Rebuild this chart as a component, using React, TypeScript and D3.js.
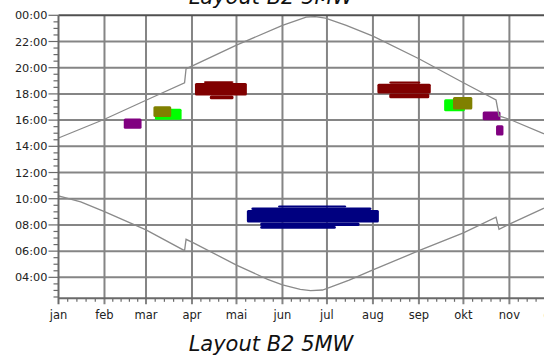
import React from 'react';
import * as d3 from 'd3';

// Shadow flicker calendar: sunrise/sunset curves and flicker periods per turbine
const YEAR = 2011;
const monthLabels = ['jan', 'feb', 'mar', 'apr', 'mai', 'jun', 'jul', 'aug', 'sep', 'okt', 'nov', 'dec'];
const hourTicks = [4, 6, 8, 10, 12, 14, 16, 18, 20, 22, 24];
const title = 'Layout B2 5MW';

// Sunset (local clock time)
const sunsetDates = ['01-01', '02-01', '03-01', '03-27', '03-28', '04-02', '05-01', '06-01', '06-17', '06-23', '06-30', '07-14', '08-01', '09-01', '10-01', '10-23', '10-25', '11-01', '11-24', '12-12', '12-31'];
const sunsetTimes = ['14:38', '16:04', '17:31', '18:51', '19:55', '20:11', '21:43', '23:14', '23:52', '23:54', '23:47', '23:14', '22:25', '20:41', '18:51', '17:32', '16:19', '16:04', '14:58', '14:42', '14:36'];

// Sunrise (local clock time)
const sunriseDates = ['01-01', '01-16', '02-01', '03-01', '03-27', '03-28', '04-02', '05-01', '05-22', '06-01', '06-13', '06-20', '06-28', '07-16', '08-01', '09-01', '10-01', '10-23', '10-25', '11-01', '11-24', '12-12', '12-31'];
const sunriseTimes = ['10:13', '09:46', '09:01', '07:37', '06:02', '06:54', '06:38', '04:56', '03:51', '03:25', '03:05', '02:59', '03:02', '03:47', '04:34', '06:02', '07:24', '08:35', '07:40', '08:04', '09:16', '09:50', '10:12'];

// Flicker periods: [first day, last day, start time, end time]
type Period = [string, string, string, string];
const flickerNavy: Period[] = [
  ['05-08', '08-05', '08:11', '09:08'],
  ['05-11', '07-31', '09:08', '09:20'],
  ['05-29', '07-14', '09:20', '09:29'],
  ['05-17', '07-23', '07:55', '08:11'],
  ['05-17', '07-07', '07:42', '07:55'],
];
const flickerDarkRed: Period[] = [
  ['04-03', '05-08', '17:53', '18:50'],
  ['04-09', '04-29', '18:50', '18:58'],
  ['04-13', '04-29', '17:35', '17:53'],
  ['08-04', '09-09', '18:02', '18:47'],
  ['08-12', '09-02', '18:47', '18:57'],
  ['08-12', '09-08', '17:40', '18:02'],
];
const flickerGreen: Period[] = [
  ['03-07', '03-25', '16:02', '16:52'],
  ['09-18', '10-02', '16:41', '17:35'],
];
const flickerOlive: Period[] = [
  ['03-06', '03-18', '16:14', '17:03'],
  ['09-24', '10-07', '16:49', '17:46'],
];
const flickerPurple: Period[] = [
  ['02-14', '02-26', '15:21', '16:07'],
  ['10-14', '10-26', '15:59', '16:40'],
  ['10-23', '10-28', '14:50', '15:36'],
];

const turbines = [
  { id: 'navy', color: '#000080', periods: flickerNavy },
  { id: 'darkred', color: '#800000', periods: flickerDarkRed },
  { id: 'green', color: '#00ff00', periods: flickerGreen },
  { id: 'olive', color: '#808000', periods: flickerOlive },
  { id: 'purple', color: '#800080', periods: flickerPurple },
];

const W = 544;
const H = 356;
const LEFT = 58.5;
const TOP = 15.3;
const BOTTOM = 298.3;
const PX_PER_DAY = 1.4832;
const RIGHT = LEFT + 365 * PX_PER_DAY;

const day = (md: string) => new Date(Date.UTC(YEAR, +md.slice(0, 2) - 1, +md.slice(3, 5)));
const hour = (hm: string) => {
  const [h, m] = hm.split(':').map(Number);
  return h + m / 60;
};

const x = d3.scaleUtc().domain([new Date(Date.UTC(YEAR, 0, 1)), new Date(Date.UTC(YEAR + 1, 0, 1))]).range([LEFT, RIGHT]);
const y = d3.scaleLinear().domain([2.4, 24]).range([BOTTOM, TOP]);

const months = d3.utcMonths(new Date(Date.UTC(YEAR, 0, 1)), new Date(Date.UTC(YEAR + 1, 0, 1)));
const minorDays = months.flatMap((m) => {
  const next = d3.utcMonth.offset(m, 1);
  const span = +next - +m;
  return [1, 2, 3, 4].map((k) => new Date(+m + (span * k) / 5));
});
const minorHours = d3.range(2.5, 24, 0.5).filter((h) => h % 2 !== 0);

const line = d3
  .line<[Date, number]>()
  .x((d) => x(d[0]))
  .y((d) => y(d[1]));

const sunset: [Date, number][] = sunsetDates.map((d, i) => [day(d), hour(sunsetTimes[i])]);
const sunrise: [Date, number][] = sunriseDates.map((d, i) => [day(d), hour(sunriseTimes[i])]);

const fmtHour = (h: number) => `${String(h % 24).padStart(2, '0')}:00`;

const GRID = '#858585';
const AXIS = '#6a6a6a';
const FONT = '"DejaVu Sans", Verdana, sans-serif';

export default function App() {
  return (
    <svg width={W} height={H} style={{ position: 'absolute', left: 0, top: 0, background: '#fff' }}>
      <defs>
        <clipPath id="plot-area">
          <rect x={LEFT} y={TOP} width={RIGHT - LEFT} height={BOTTOM - TOP} />
        </clipPath>
      </defs>
      <rect width={W} height={H} fill="#fff" />

      {/* titles */}
      <text x={271} y={4} textAnchor="middle" fontFamily={FONT} fontStyle="italic" fontSize={21} fill="#111">
        {title}
      </text>
      <text x={271} y={351} textAnchor="middle" fontFamily={FONT} fontStyle="italic" fontSize={21} fill="#111">
        {title}
      </text>

      {/* horizontal grid */}
      {hourTicks
        .filter((h) => h < 24)
        .map((h) => (
          <line key={`hg${h}`} x1={LEFT} x2={RIGHT} y1={y(h)} y2={y(h)} stroke={GRID} strokeWidth={2} />
        ))}
      {/* vertical grid, extending below the axis as month ticks */}
      {months.slice(1).map((m) => (
        <line key={`vg${+m}`} x1={x(m)} x2={x(m)} y1={TOP} y2={BOTTOM + 6} stroke={GRID} strokeWidth={2} />
      ))}

      {/* flicker periods */}
      <g clipPath="url(#plot-area)">
        {turbines.map((t) =>
          t.periods.map((p, i) => {
            const x0 = x(day(p[0]));
            const x1 = x(day(p[1]));
            const y0 = y(hour(p[3]));
            const y1 = y(hour(p[2]));
            return (
              <rect key={`${t.id}${i}`} x={x0} y={y0} width={x1 - x0} height={y1 - y0} rx={1.5} fill={t.color} />
            );
          })
        )}
        <path d={line(sunset) ?? ''} fill="none" stroke="#8a8a8a" strokeWidth={1.3} />
        <path d={line(sunrise) ?? ''} fill="none" stroke="#8a8a8a" strokeWidth={1.3} />
      </g>

      {/* axes frame */}
      <line x1={LEFT} x2={RIGHT} y1={TOP} y2={TOP} stroke="#505050" strokeWidth={2} />
      <line x1={LEFT} x2={RIGHT} y1={BOTTOM} y2={BOTTOM} stroke={AXIS} strokeWidth={2} />
      <line x1={LEFT} x2={LEFT} y1={TOP} y2={BOTTOM + 6} stroke={AXIS} strokeWidth={2} />

      {/* y ticks */}
      {hourTicks.map((h) => (
        <g key={`yt${h}`}>
          <line x1={LEFT - 10} x2={LEFT} y1={y(h)} y2={y(h)} stroke={AXIS} strokeWidth={1.2} />
          <text x={LEFT - 11} y={y(h) + 4} textAnchor="end" fontFamily={FONT} fontSize={11.3} fill="#222">
            {fmtHour(h)}
          </text>
        </g>
      ))}
      {minorHours.map((h) => (
        <line key={`ym${h}`} x1={LEFT - 5} x2={LEFT} y1={y(h)} y2={y(h)} stroke={AXIS} strokeWidth={1.2} />
      ))}

      {/* x ticks */}
      {minorDays.map((d) => (
        <line key={`xm${+d}`} x1={x(d)} x2={x(d)} y1={BOTTOM} y2={BOTTOM + 3.5} stroke={AXIS} strokeWidth={1.2} />
      ))}
      {months.map((m, i) => (
        <text key={`xl${i}`} x={x(m)} y={319} textAnchor="middle" fontFamily={FONT} fontSize={11.5} fill="#222">
          {monthLabels[i]}
        </text>
      ))}
    </svg>
  );
}
